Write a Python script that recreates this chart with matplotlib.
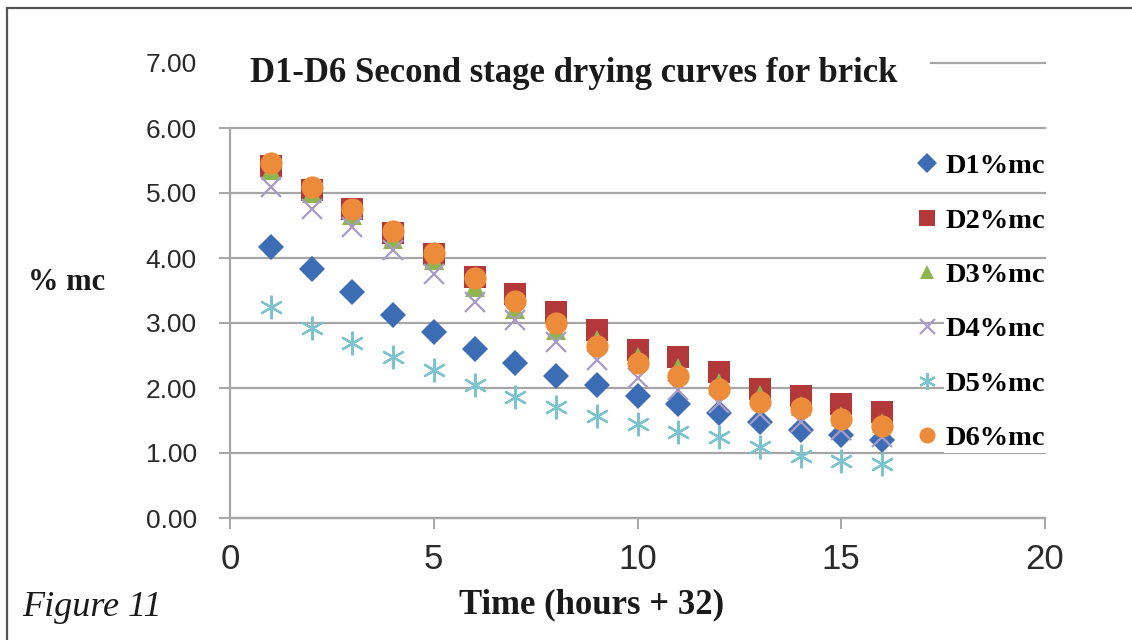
import matplotlib
matplotlib.use("Agg")
import matplotlib.pyplot as plt
from matplotlib.lines import Line2D
from matplotlib.patches import Rectangle

# Moisture content (% mc) per hour for bricks D1-D6, second drying stage
hours = [1, 2, 3, 4, 5, 6, 7, 8, 9, 10, 11, 12, 13, 14, 15, 16]
d1 = [4.17, 3.83, 3.48, 3.13, 2.86, 2.60, 2.39, 2.19, 2.04, 1.88, 1.75, 1.61, 1.48, 1.36, 1.28, 1.20]
d2 = [5.41, 5.05, 4.75, 4.39, 4.06, 3.71, 3.45, 3.17, 2.90, 2.58, 2.47, 2.24, 1.98, 1.88, 1.75, 1.63]
d3 = [5.35, 5.00, 4.66, 4.30, 3.97, 3.56, 3.22, 2.90, 2.74, 2.48, 2.31, 2.07, 1.89, 1.72, 1.57, 1.46]
d4 = [5.10, 4.75, 4.47, 4.12, 3.76, 3.33, 3.04, 2.71, 2.43, 2.15, 1.97, 1.77, 1.60, 1.48, 1.35, 1.25]
d5 = [3.24, 2.93, 2.69, 2.47, 2.28, 2.05, 1.86, 1.71, 1.57, 1.45, 1.33, 1.24, 1.10, 0.95, 0.88, 0.83]
d6 = [5.46, 5.10, 4.76, 4.41, 4.07, 3.69, 3.34, 3.00, 2.64, 2.38, 2.18, 1.98, 1.79, 1.69, 1.52, 1.42]

series_labels = ["D1%mc", "D2%mc", "D3%mc", "D4%mc", "D5%mc", "D6%mc"]
x_ticks = [0, 5, 10, 15, 20]
y_ticks = [0, 1, 2, 3, 4, 5, 6, 7]

styles = [
    dict(marker="D", color="#3c6db4", ms=13.5, mew=0),
    dict(marker="s", color="#b3383a", ms=15.5, mew=0),
    dict(marker="^", color="#8fb54c", ms=14, mew=0),
    dict(marker="x", color="#a89bc6", ms=15, mew=1.6),
    dict(marker=(6, 2, 0), color="#7cc3d0", ms=17, mew=1.6),
    dict(marker="o", color="#ec8b3a", ms=16, mew=0),
]

serif = ["Liberation Serif", "DejaVu Serif"]
narrow = ["Liberation Sans Narrow", "Liberation Sans", "DejaVu Sans"]

W, H = 1132, 640
fig = plt.figure(figsize=(W / 100, H / 100), dpi=100)
ax = fig.add_axes([230 / W, 122 / H, 815 / W, 455 / H])

grid_col = "#a6a6a6"
ax.set_xlim(0, 20)
ax.set_ylim(0, 7)
ax.set_yticks(y_ticks)
ax.set_xticks(x_ticks)
ax.yaxis.grid(True, color=grid_col, lw=1.6)
for gl in ax.get_ygridlines():
    gl.set_clip_on(False)
ax.set_axisbelow(True)
for s in ("top", "right"):
    ax.spines[s].set_visible(False)
for s in ("left", "bottom"):
    ax.spines[s].set_color(grid_col)
    ax.spines[s].set_linewidth(1.6)
ax.spines["left"].set_bounds(0, 6)

ax.tick_params(axis="both", color=grid_col, width=1.4, length=8, direction="out")
ax.tick_params(axis="y", pad=16)
ax.tick_params(axis="x", pad=10)
ax.set_yticklabels([f"{v:.2f}" for v in y_ticks], family=narrow, fontsize=19, color="#2a2a2a")
ax.set_xticklabels([str(v) for v in x_ticks], family=narrow, fontsize=25, color="#2a2a2a")
ax.yaxis.get_major_ticks()[-1].tick1line.set_visible(False)

for vals, st in zip([d1, d2, d3, d4, d5, d6], styles):
    ax.plot(hours, vals, linestyle="none", marker=st["marker"], color=st["color"],
            markersize=st["ms"], markeredgewidth=st["mew"], zorder=3)

handles = [Line2D([], [], linestyle="none", marker=st["marker"], color=st["color"],
                  markersize=st["ms"] * 0.72, markeredgewidth=st["mew"]) for st in styles]
leg = fig.legend(handles, series_labels, loc="lower left",
                 bbox_to_anchor=(0.789, 0.255), bbox_transform=fig.transFigure,
                 frameon=False, handlelength=0.6, handletextpad=0.35, labelspacing=1.0,
                 prop=dict(family=serif, weight="bold", size=20.5))
for t in leg.get_texts():
    t.set_bbox(dict(facecolor="white", edgecolor="none", pad=1))

# White band over the top gridline carrying the title
fig.add_artist(Rectangle((228 / W, 1 - 92 / H), 702 / W, 44 / H, transform=fig.transFigure,
                         facecolor="white", edgecolor="none", zorder=4))
fig.text(574 / W, 1 - 74 / H, "D1-D6 Second stage drying curves for brick", ha="center", va="center",
         family=serif, weight="bold", fontsize=25, color="#1a1a1a", zorder=5)

fig.text(67 / W, 1 - 282 / H, "% mc", ha="center", va="center", family=serif,
         weight="bold", fontsize=22, color="#1a1a1a")
fig.text(592 / W, 1 - 605 / H, "Time (hours + 32)", ha="center", va="center", family=serif,
         weight="bold", fontsize=25, color="#1a1a1a")
fig.text(22 / W, 1 - 608 / H, "Figure 11", ha="left", va="center", family=serif,
         style="italic", fontsize=26, color="#1a1a1a")

# Page frame: top and left rules
fig.add_artist(Line2D([7 / W, 1.0], [1 - 8 / H, 1 - 8 / H], transform=fig.transFigure,
                      color="#555555", lw=1.6))
fig.add_artist(Line2D([7 / W, 7 / W], [0.0, 1 - 8 / H], transform=fig.transFigure,
                      color="#555555", lw=1.6))

fig.savefig("out.png", dpi=100)
